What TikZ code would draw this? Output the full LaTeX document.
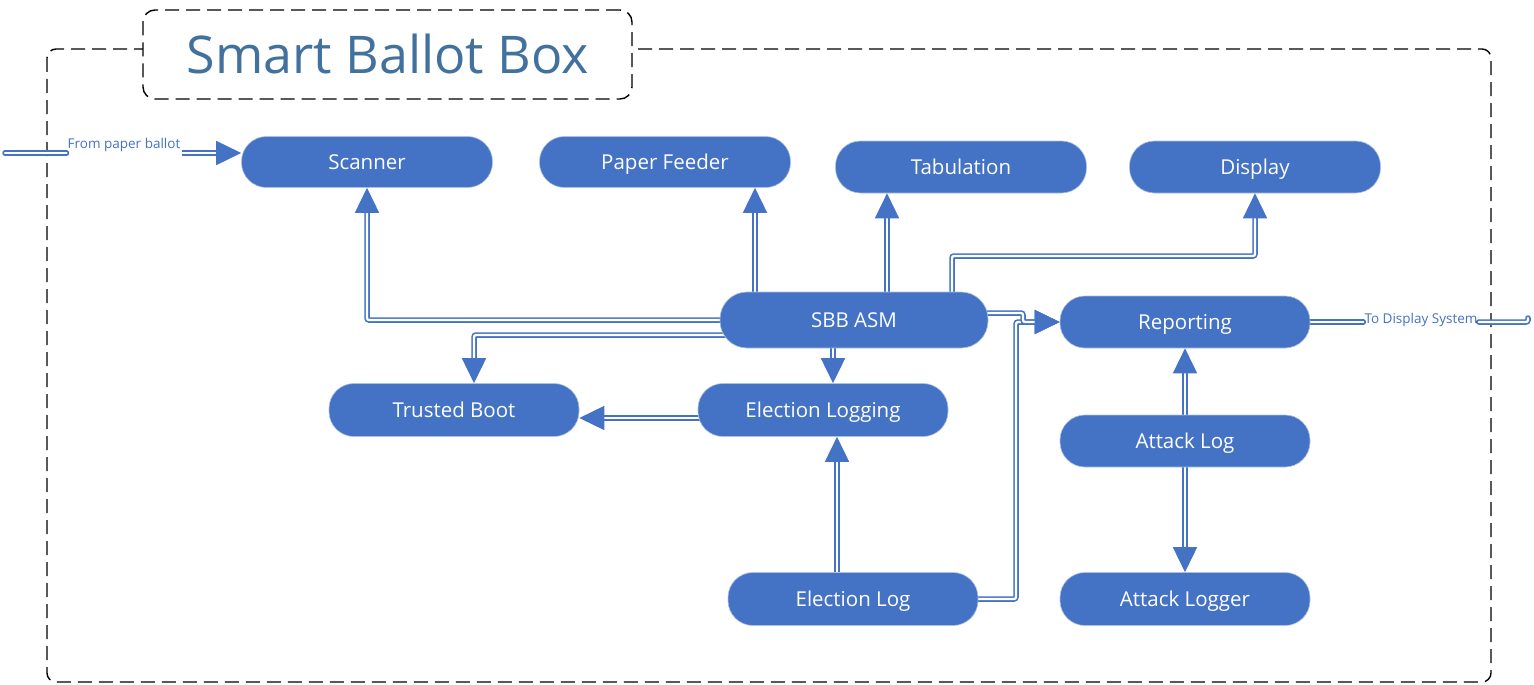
\documentclass[tikz,border=0pt]{standalone}
\usepackage{fontspec}
\setmainfont{Open Sans}
\usetikzlibrary{arrows.meta}
\definecolor{sbblue}{HTML}{4472C4}
\definecolor{titleblue}{HTML}{41719C}
\pgfdeclarelayer{bg}
\pgfsetlayers{bg,main}
\begin{document}
\begin{tikzpicture}[x=1pt,y=-1pt,
  pill/.style={rectangle, rounded corners=25pt, minimum width=250pt, minimum height=52pt,
    fill=sbblue, draw=white!55!sbblue, line width=0.6pt, text=white,
    font=\fontsize{20.5}{24}\selectfont, inner sep=0pt, text height=18pt, text depth=4pt},
  conn/.style={draw=sbblue, line width=1.6pt, double=white, double distance=2.3pt,
    -{Triangle[length=25pt,width=24pt,fill=sbblue]}, rounded corners=2pt},
  plainconn/.style={draw=sbblue, line width=1.6pt, double=white, double distance=2.3pt,
    line cap=round, rounded corners=2pt},
  lbl/.style={text=sbblue, font=\fontsize{13.5}{16}\selectfont, inner sep=1pt},
  frame/.style={draw=black, line width=1.4pt, dash pattern=on 14pt off 7pt},
]
\useasboundingbox (0,0) rectangle (1534,685);

% nodes
\node[pill, minimum width=251pt, minimum height=51pt] (scanner) at (367,162) {Scanner};
\node[pill, minimum width=251pt, minimum height=51pt] (feeder) at (665,162) {Paper Feeder};
\node[pill, minimum width=251pt] (tab) at (961,167) {Tabulation};
\node[pill, minimum width=251pt] (display) at (1255,167) {Display};
\node[pill, minimum width=268pt, minimum height=56pt, rounded corners=27pt] (sbb) at (854,320) {SBB ASM};
\node[pill] (report) at (1185,322) {Reporting};
\node[pill, minimum height=53pt] (trusted) at (454,410) {Trusted Boot};
\node[pill, minimum height=53pt] (elogging) at (823,410) {Election Logging};
\node[pill] (attacklog) at (1185,441) {Attack Log};
\node[pill, minimum height=53pt] (elog) at (853,599) {Election Log};
\node[pill, minimum height=53pt] (alogger) at (1185,599) {Attack Logger};

\node[lbl] (fromlbl) at (124,145) {From paper ballot};
\node[lbl] (todisp) at (1421,320) {To Display System};
\coordinate (in) at (5,153);
\coordinate (out) at (1528,322);

\coordinate (fdbot) at ([xshift=90pt]feeder.south);
\coordinate (tbbot) at ([xshift=-74pt]tab.south);
\coordinate (dsstart) at ([xshift=98pt]sbb.center);
\coordinate (tbtop) at ([xshift=20pt]trusted.north);
\coordinate (elgtop) at ([xshift=10pt]elogging.north);
\coordinate (elgbot) at ([xshift=14pt]elogging.south);

\begin{pgfonlayer}{bg}
  \draw[frame, rounded corners=9pt] (47,49) rectangle (1491,682);
  \node[frame, fill=white, rounded corners=12pt, minimum width=489pt, minimum height=89pt] (titlebox) at (387.5,54.5) {};

  % input / output
  \draw[plainconn] (in) -- (in -| fromlbl.west);
  \draw[conn] (in -| fromlbl.east) -- (in -| scanner.west);
  \draw[plainconn] (report.center) -- (todisp.west |- report.center);
  \draw[plainconn] (todisp.east |- report.center) -- (out) -- ++(0,-4);

  % from SBB ASM
  \draw[conn] (sbb.center) -| (scanner.south);
  \draw[conn] (sbb.center -| fdbot) -- (fdbot);
  \draw[conn] (sbb.center -| tbbot) -- (tbbot);
  \draw[conn] (dsstart) -- (dsstart |- 0,256) -| (display.south);
  \draw[conn] (sbb.center |- 0,335) -| (tbtop);
  \draw[conn] (sbb.center -| elgtop) -- (elgtop);
  \draw[conn] (elog.center) -- (1016,599) -- (1016,322) -- (report.west);
  \draw[conn] (sbb.center |- 0,313) -- (1023,313) -- (1023,322) -- (report.west);

  % others
  \draw[conn] (elogging.center |- 0,418) -- (trusted.east |- 0,418);
  \draw[conn] (elog.center -| elgbot) -- (elgbot);
  \draw[conn] (attacklog.center) -- (report.south);
  \draw[conn] (attacklog.center) -- (alogger.north);
\end{pgfonlayer}

\node[text=titleblue, font=\fontsize{52}{60}\selectfont] (title) at (388,54) {Smart Ballot Box};
\end{tikzpicture}
\end{document}
